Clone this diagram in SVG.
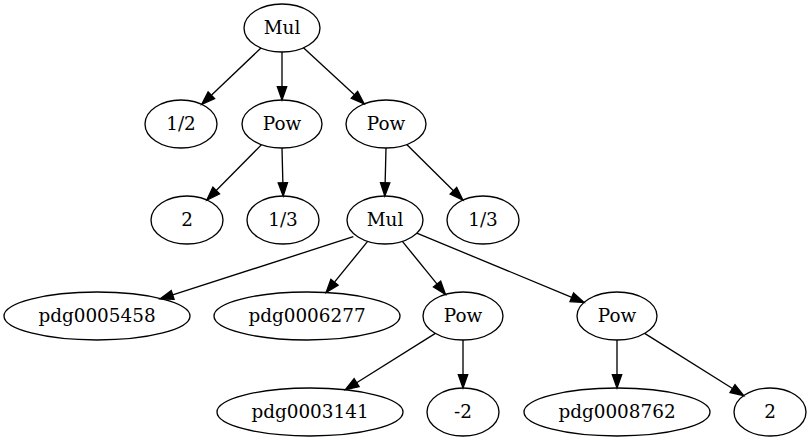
<svg xmlns="http://www.w3.org/2000/svg" width="811" height="443" viewBox="0 0 811 443">
<style>
.n ellipse{fill:none;stroke:#000;stroke-width:1.33}
.n text{font-family:"DejaVu Serif","Liberation Serif",serif;font-size:18.4px;text-anchor:middle;fill:#000}
.e line{stroke:#000;stroke-width:1.33;marker-end:url(#ah)}
</style>
<defs>
<marker id="ah" markerUnits="userSpaceOnUse" markerWidth="14" markerHeight="10" refX="0" refY="4.67" orient="auto" overflow="visible">
<path d="M0,0 L13.3,4.67 L0,9.33 z" fill="#000" stroke="#000" stroke-width="1.33"/>
</marker>
</defs>
<rect width="811" height="443" fill="#fff"/>
<g id="edges" class="e">
<line x1="260.96" y1="48" x2="211.34" y2="95.19"/>
<line x1="282" y1="52" x2="282" y2="86.7"/>
<line x1="303.46" y1="47.81" x2="354.42" y2="94.86"/>
<line x1="261.58" y1="144.64" x2="216.18" y2="190.52"/>
<line x1="282" y1="148" x2="282.86" y2="182.7"/>
<line x1="386" y1="148" x2="385.14" y2="182.7"/>
<line x1="406.74" y1="144.52" x2="453.44" y2="190.74"/>
<line x1="353.3" y1="236.7" x2="172.66" y2="294.92"/>
<line x1="367.65" y1="241.35" x2="334.5" y2="282.2"/>
<line x1="402.35" y1="241.35" x2="437.1" y2="284.1"/>
<line x1="416.78" y1="233.15" x2="571.8" y2="297.3"/>
<line x1="435.35" y1="333.35" x2="356.6" y2="382.7"/>
<line x1="463" y1="340" x2="463" y2="374.7"/>
<line x1="617" y1="340" x2="617" y2="374.7"/>
<line x1="644.65" y1="333.35" x2="732.5" y2="388.5"/>
</g>
<g id="n1" class="n"><ellipse cx="282" cy="28" rx="38" ry="24"/><text x="282" y="34.3">Mul</text></g>
<g id="n2" class="n"><ellipse cx="181" cy="124" rx="36" ry="24"/><text x="181" y="130.3">1/2</text></g>
<g id="n3" class="n"><ellipse cx="282" cy="124" rx="40" ry="24"/><text x="282" y="130.3">Pow</text></g>
<g id="n4" class="n"><ellipse cx="386" cy="124" rx="40" ry="24"/><text x="386" y="130.3">Pow</text></g>
<g id="n5" class="n"><ellipse cx="187" cy="220" rx="36" ry="24"/><text x="187" y="226.3">2</text></g>
<g id="n6" class="n"><ellipse cx="283" cy="220" rx="36" ry="24"/><text x="283" y="226.3">1/3</text></g>
<g id="n7" class="n"><ellipse cx="385" cy="220" rx="38" ry="24"/><text x="385" y="226.3">Mul</text></g>
<g id="n8" class="n"><ellipse cx="483" cy="220" rx="36" ry="24"/><text x="483" y="226.3">1/3</text></g>
<g id="n9" class="n"><ellipse cx="97" cy="316" rx="93" ry="24"/><text x="97" y="322.3">pdg0005458</text></g>
<g id="n10" class="n"><ellipse cx="307" cy="316" rx="93" ry="24"/><text x="307" y="322.3">pdg0006277</text></g>
<g id="n11" class="n"><ellipse cx="463" cy="316" rx="40" ry="24"/><text x="463" y="322.3">Pow</text></g>
<g id="n12" class="n"><ellipse cx="617" cy="316" rx="40" ry="24"/><text x="617" y="322.3">Pow</text></g>
<g id="n13" class="n"><ellipse cx="310" cy="412" rx="93" ry="24"/><text x="310" y="418.3">pdg0003141</text></g>
<g id="n14" class="n"><ellipse cx="463" cy="412" rx="36" ry="24"/><text x="463" y="418.3">-2</text></g>
<g id="n15" class="n"><ellipse cx="617" cy="412" rx="93" ry="24"/><text x="617" y="418.3">pdg0008762</text></g>
<g id="n16" class="n"><ellipse cx="770" cy="412" rx="36" ry="24"/><text x="770" y="418.3">2</text></g>
</svg>
